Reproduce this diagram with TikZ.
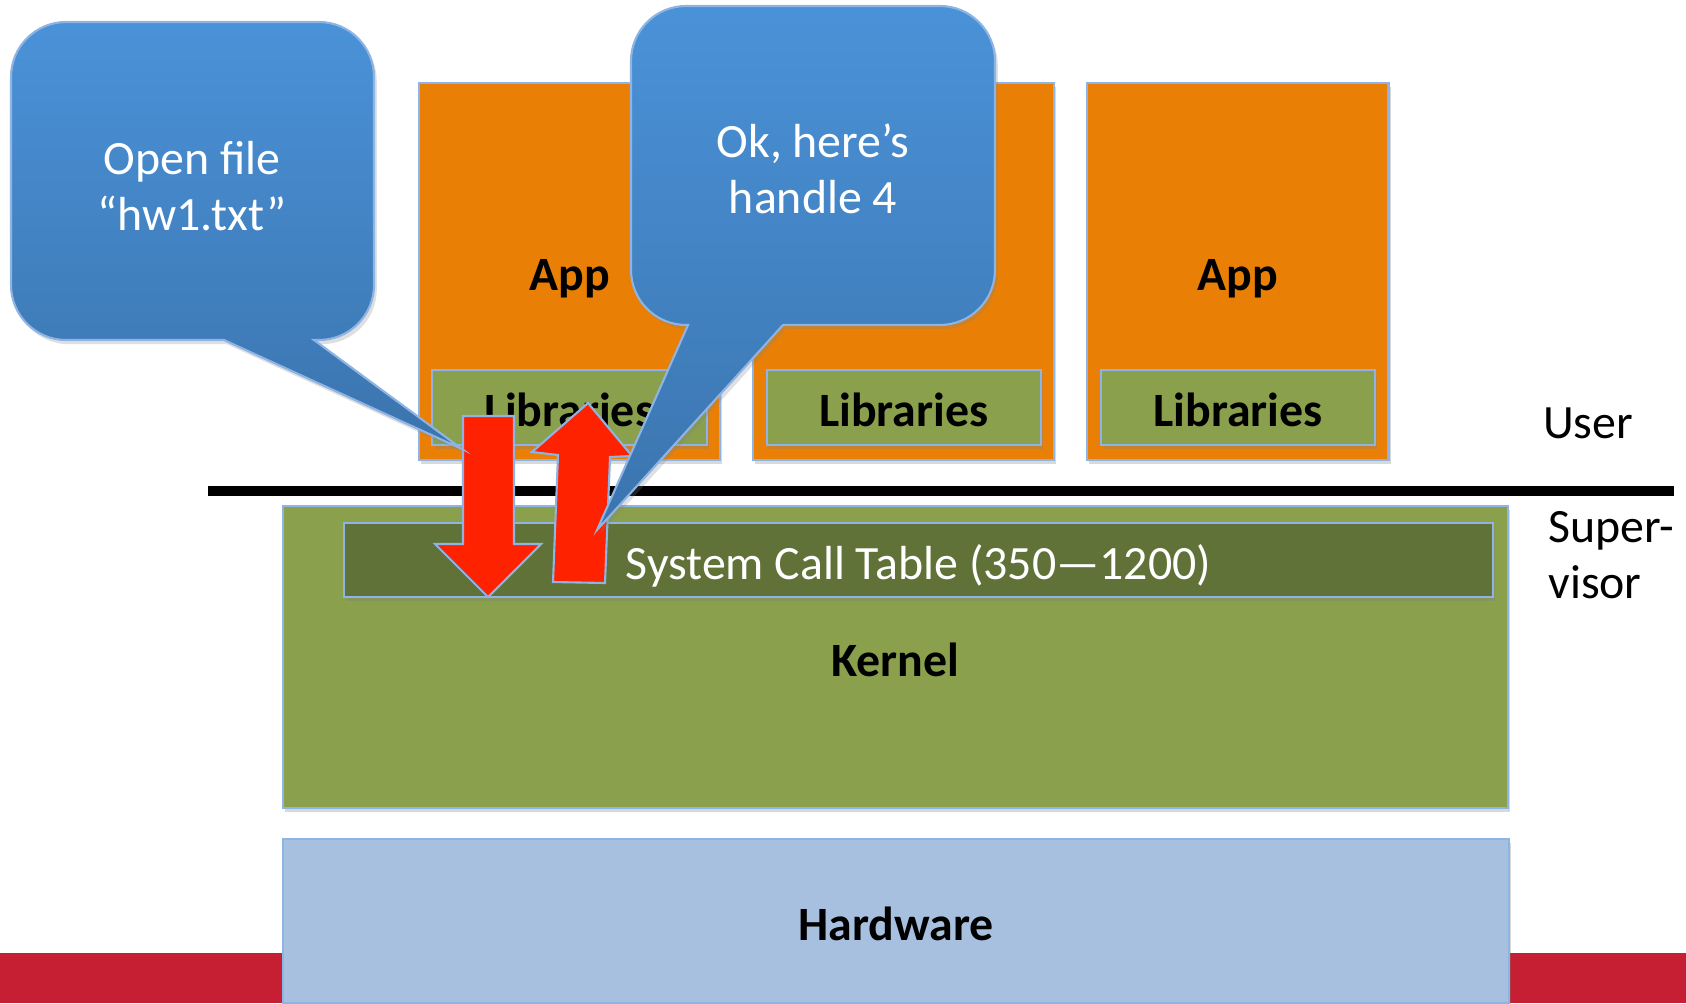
\documentclass[tikz,border=0pt]{standalone}
\usepackage{fontspec}
\setmainfont{Carlito}
\usetikzlibrary{positioning,shadows}
\definecolor{apporange}{HTML}{E98005}
\definecolor{kernelgreen}{HTML}{8AA04C}
\definecolor{tablegreen}{HTML}{607238}
\definecolor{hwblue}{HTML}{A7C0DF}
\definecolor{bandred}{HTML}{C61E32}
\definecolor{arrowred}{HTML}{FF2200}
\definecolor{edgeblue}{HTML}{8EB4E3}
\definecolor{bubbletop}{HTML}{4A92D8}
\definecolor{bubblebot}{HTML}{3B74AE}

\begin{document}
\begin{tikzpicture}[x=0.01cm,y=-0.01cm,
    font=\fontsize{13.6}{15.9}\selectfont,
    box/.style={draw=edgeblue,line width=0.6pt,inner sep=0pt,outer sep=0pt,
      text height=12pt,text depth=1.2pt,
      drop shadow={opacity=0.3,shadow xshift=0.6pt,shadow yshift=-1.2pt}},
    appbox/.style={box,fill=apporange,minimum width=30.1mm,minimum height=37.7mm,
      font=\fontsize{13.6}{15.9}\selectfont\bfseries},
    libbox/.style={box,fill=kernelgreen,minimum width=27.4mm,minimum height=7.5mm,
      font=\fontsize{13.6}{15.9}\selectfont\bfseries},
    bubble/.style={draw=edgeblue,line width=0.6pt,top color=bubbletop,bottom color=bubblebot,
      drop shadow={opacity=0.25,shadow xshift=0.8pt,shadow yshift=-1.2pt}},
    bubbletext/.style={text=white,align=center},
    blockarrow/.style={fill=arrowred,draw=edgeblue,line width=0.6pt}]
  \useasboundingbox (0,0) rectangle (1686,1003);
  \fill[bandred] (0,953) rectangle (1686,1003);

  \node[appbox] (app1) at (569.5,271.5) {App};
  \node[appbox,right=3.3mm of app1] (app2) {};
  \node[appbox,right=3.3mm of app2] (app3) {App};
  \node[libbox,above=1.5mm of app1.south] (lib1) {Libraries};
  \node[libbox,above=1.5mm of app2.south] (lib2) {Libraries};
  \node[libbox,above=1.5mm of app3.south] (lib3) {Libraries};

  \coordinate (sepL) at (208,491);
  \coordinate (sepR) at (1674,491);
  \draw[line width=3.1pt] (sepL) -- (sepR);

  \node[box,fill=kernelgreen,minimum width=122.5mm,minimum height=30.2mm,
    font=\fontsize{13.6}{15.9}\selectfont\bfseries] (kernel) at (895.5,657) {Kernel};
  \node[box,fill=tablegreen,minimum width=114.9mm,minimum height=7.4mm,text=white,
    drop shadow={opacity=0}] (syscall) at (918.5,560) {System Call Table (350—1200)};
  \node[box,fill=hwblue,minimum width=122.6mm,minimum height=16.4mm,
    font=\fontsize{13.6}{15.9}\selectfont\bfseries] (hw) at (896,921) {Hardware};

  \draw[blockarrow] (463,416) -- (514,416) -- (514,544) -- (541,544) -- (488,597)
    -- (435,544) -- (463,544) -- cycle;
  \draw[blockarrow] (553,582) -- (558,455) -- (532,452) -- (588,403) -- (632,456)
    -- (610,457) -- (605,583) -- cycle;

  \path[bubble] (224,340) [rounded corners=5.5mm] -- (11,340) -- (11,22) -- (374,22)
    -- (374,340) [sharp corners] -- (314,340) -- (462,449) -- cycle;
  \node[bubbletext] (ask) at (192,186) {Open file\\“hw1.txt”};
  \path[bubble] (783,325) [rounded corners=5.5mm] -- (995,325) -- (995,6) -- (631,6)
    -- (631,325) [sharp corners] -- (688,325) -- (597,530) -- cycle;
  \node[bubbletext] (reply) at (813,169) {Ok, here’s\\handle 4};

  \node (user) at (1588,423) {User};
  \node[align=left,anchor=west] (super) at (1536,555) {Super-\\visor};
\end{tikzpicture}
\end{document}
